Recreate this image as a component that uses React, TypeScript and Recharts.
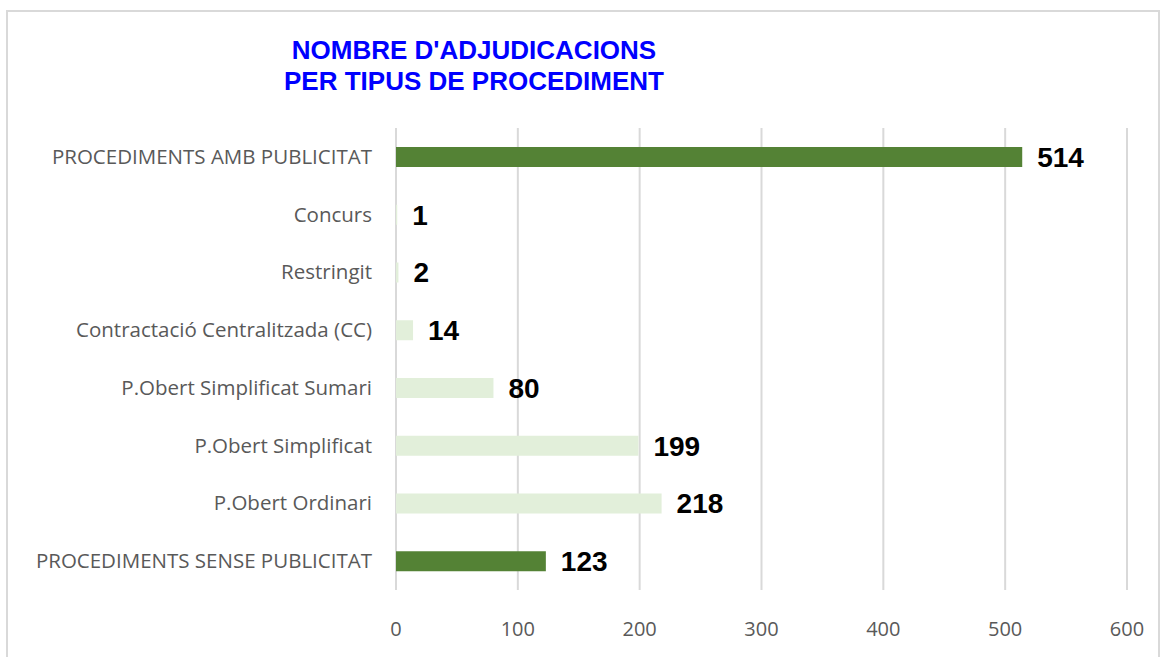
import React from "react";
import {
  BarChart,
  Bar,
  XAxis,
  YAxis,
  CartesianGrid,
  Cell,
  LabelList,
} from "recharts";

const categories = [
  "PROCEDIMENTS AMB PUBLICITAT",
  "Concurs",
  "Restringit",
  "Contractació Centralitzada (CC)",
  "P.Obert Simplificat Sumari",
  "P.Obert Simplificat",
  "P.Obert Ordinari",
  "PROCEDIMENTS SENSE PUBLICITAT",
];
const values = [514, 1, 2, 14, 80, 199, 218, 123];
const isTotal = [true, false, false, false, false, false, false, true];
const xTicks = [0, 100, 200, 300, 400, 500, 600];

const data = categories.map((name, i) => ({ name, value: values[i], total: isTotal[i] }));

const DARK = "#548235";
const LIGHT = "#E2EFDA";

const XTick = ({ x, y, payload }: any) => (
  <text x={x} y={y + 38} textAnchor="middle" fill="#595959" fontSize={20} fontFamily="Open Sans">
    {payload.value}
  </text>
);

const YTick = ({ x, y, payload }: any) => (
  <text x={x - 16} y={y + 7} textAnchor="end" fill="#595959" fontSize={20.5} fontFamily="Open Sans">
    {payload.value}
  </text>
);

export default function App() {
  return (
    <div style={{ position: "absolute", left: 0, top: 0, width: 1161, height: 657, background: "#fff", overflow: "hidden" }}>
      <div
        style={{
          position: "absolute",
          left: 6,
          top: 10,
          width: 1150,
          height: 700,
          border: "2px solid #d9d9d9",
        }}
      />
      <div
        style={{
          position: "absolute",
          left: 274,
          top: 35,
          width: 400,
          textAlign: "center",
          fontFamily: "Liberation Sans, Arial, sans-serif",
          fontWeight: "bold",
          fontSize: 26,
          lineHeight: "31px",
          color: "#0000FF",
        }}
      >
        NOMBRE D'ADJUDICACIONS
        <br />
        PER TIPUS DE PROCEDIMENT
      </div>
      <div style={{ position: "absolute", left: 0, top: 0 }}>
        <BarChart
          width={1161}
          height={657}
          data={data}
          layout="vertical"
          margin={{ top: 128, right: 34, bottom: 37, left: 0 }}
        >
          <CartesianGrid horizontal={false} stroke="#d9d9d9" strokeWidth={2} />
          <XAxis
            type="number"
            domain={[0, 600]}
            ticks={xTicks}
            axisLine={false}
            tickLine={false}
            height={30}
            tick={<XTick />}
            interval={0}
          />
          <YAxis
            type="category"
            dataKey="name"
            width={396}
            axisLine={false}
            tickLine={false}
            tick={<YTick />}
            interval={0}
          />
          <Bar dataKey="value" barSize={20} isAnimationActive={false}>
            {data.map((d, i) => (
              <Cell key={i} fill={d.total ? DARK : LIGHT} />
            ))}
            <LabelList
              dataKey="value"
              position="right"
              offset={15}
              fill="#000"
              fontSize={28}
              fontWeight="bold"
              fontFamily="Liberation Sans, Arial, sans-serif"
            />
          </Bar>
        </BarChart>
      </div>
    </div>
  );
}
